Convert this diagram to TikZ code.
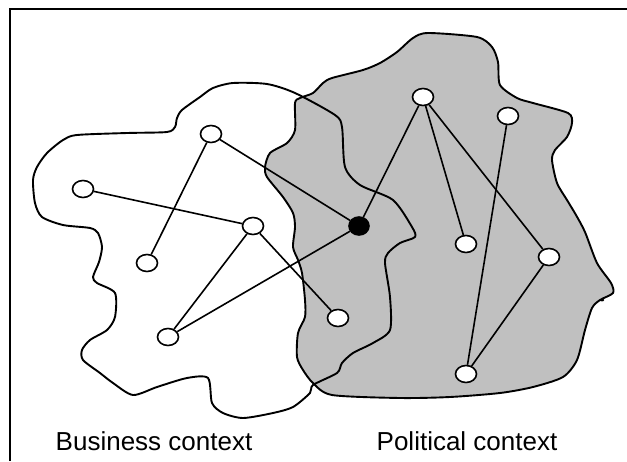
\documentclass[tikz,border=0pt]{standalone}
\usepackage{fontspec}
\setmainfont{Liberation Sans}
\usetikzlibrary{shapes.geometric}
\definecolor{polgray}{RGB}{192,192,192}
\tikzset{
  actor/.style={ellipse, draw, fill=white, line width=1.6pt, minimum width=21pt, minimum height=17pt, inner sep=0pt},
  hub/.style={ellipse, draw, fill=black, line width=1.6pt, minimum width=20pt, minimum height=18pt, inner sep=0pt},
  link/.style={line width=1.6pt},
  outline/.style={line width=1.9pt, line join=round},
  label/.style={font=\fontsize{26}{31}\selectfont, anchor=base}
}
\begin{document}
\begin{tikzpicture}[x=1pt,y=-1pt]
\useasboundingbox (0,0) rectangle (627,461);
% frame
\draw[line width=2pt] (10,461) -- (10,9) -- (627,9);
% political context
\draw[outline, fill=polgray] plot[smooth cycle, tension=0.45] coordinates {
 (428,33) (477,37) (492,47) (498,62) (500,85) (517,98) (533,103) (568,113) (572,123)
 (567,137) (555,150) (552,160) (557,183) (567,200) (576,215) (585,232) (597,263)
 (611,283) (613,293) (600,300) (592,308) (585,330) (577,360) (563,377) (533,387)
 (500,393) (450,397) (400,398) (332,395) (313,383) (303,370) (297,357) (298,333)
 (305,317) (305,300) (302,273) (298,260) (293,247) (295,227) (293,213) (283,197)
 (267,177) (265,167) (270,153) (287,143) (295,130) (295,103) (300,98) (313,93)
 (323,83) (332,78) (363,70) (380,63) (397,52) (413,38)};
\fill (602,300) ellipse (2.2pt and 1.4pt);
% business context
\draw[outline] plot[smooth cycle, tension=0.45] coordinates {
 (295,93) (267,84) (233,83) (213,88) (200,97) (182,110) (177,118) (175,127) (167,132)
 (127,133) (77,135) (63,140) (47,153) (37,167) (33,180) (35,203) (42,217) (63,225)
 (90,228) (98,233) (102,247) (99,262) (93,277) (97,283) (115,293) (115,317) (107,330)
 (90,340) (82,350) (83,360) (100,373) (113,383) (133,395) (157,387) (187,378) (208,378)
 (212,403) (223,413) (243,418) (273,413) (293,407) (310,393) (313,385) (337,373)
 (342,363) (353,353) (373,343) (390,330) (390,297) (385,263) (388,253) (400,243)
 (415,237) (412,227) (393,200) (360,185) (345,167) (342,127) (335,115)};
% nodes
\node[actor] (A) at (211,134) {};
\node[actor] (B) at (83,189) {};
\node[actor] (C) at (253,226) {};
\node[actor] (D) at (147,263) {};
\node[actor] (E) at (168,337) {};
\node[actor] (F) at (423,97) {};
\node[actor] (G) at (508,116) {};
\node[hub]   (H) at (359,226) {};
\node[actor] (I) at (466,244) {};
\node[actor] (J) at (549,257) {};
\node[actor] (K) at (338,318) {};
\node[actor] (L) at (466,374) {};
% links
\draw[link] (A) -- (D);
\draw[link] (A) -- (H);
\draw[link] (B) -- (C);
\draw[link] (C) -- (E);
\draw[link] (C) -- (K);
\draw[link] (E) -- (H);
\draw[link] (F) -- (H);
\draw[link] (F) -- (I);
\draw[link] (F) -- (J);
\draw[link] (G) -- (L);
\draw[link] (J) -- (L);
% labels
\node[label] (bl) at (154,450) {Business context};
\node[label] (pl) at (467,450) {Political context};
\end{tikzpicture}
\end{document}
